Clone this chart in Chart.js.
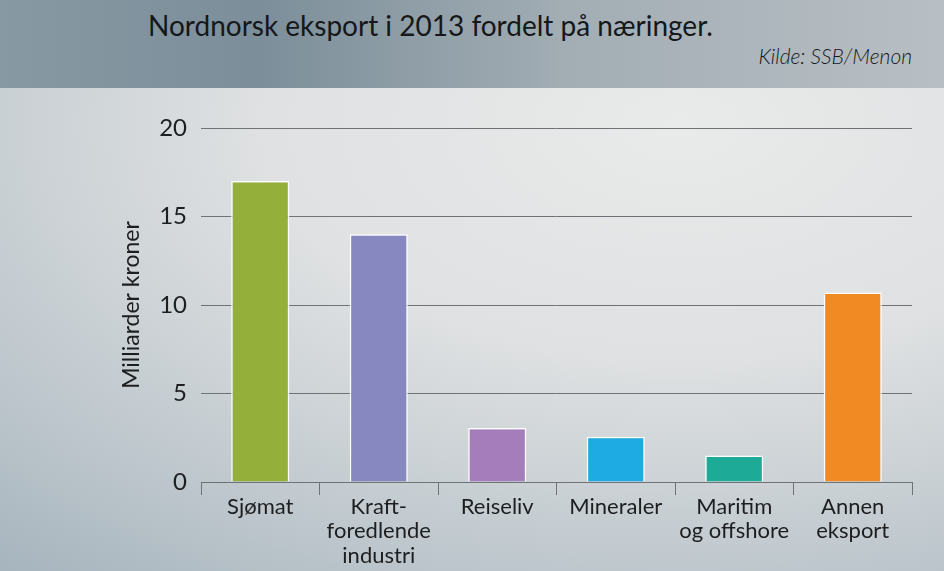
<!DOCTYPE html>
<html>
<head>
<meta charset="utf-8">
<script src="https://cdn.jsdelivr.net/npm/chart.js@4"></script>
<style>
  html, body { margin: 0; padding: 0; }
  body { width: 944px; height: 571px; overflow: hidden; font-family: Lato, sans-serif; }
  #header {
    position: relative; height: 88px;
    background: linear-gradient(90deg, #879aa4 0%, #7b8e99 27%, #a2adb4 60%, #b8bfc4 100%);
  }
  #title { position: absolute; left: 148px; top: 8px; font-size: 28px; color: #15171a; }
  #source { position: absolute; right: 32px; top: 43px; font-size: 21px; font-style: italic; font-weight: 300; color: #15171a; }
  #plot {
    position: relative; width: 944px; height: 483px;
    background: radial-gradient(ellipse 110% 120% at 72% 8%, #e9eaea 0%, #dfe1e2 40%, #c3cbd0 72%, #a7b5be 100%);
  }
</style>
</head>
<body>
<div id="header">
  <div id="title">Nordnorsk eksport i 2013 fordelt på næringer.</div>
  <div id="source">Kilde: SSB/Menon</div>
</div>
<div id="plot"><canvas id="chart" width="944" height="483"></canvas></div>
<script>
const categories = [
    'Sjømat',
    ['Kraft-', 'foredlende', 'industri'],
    'Reiseliv',
    'Mineraler',
    ['Maritim', 'og offshore'],
    ['Annen', 'eksport']
];
const values = [17.0, 14.0, 3.05, 2.55, 1.5, 10.7];
const barColors = ['#95b03a', '#8788c0', '#a57dba', '#1eaae2', '#1dab97', '#f28a24'];
const yTicks = [0, 5, 10, 15, 20];

const context = document.getElementById('chart');
const exportChart = new Chart(context, {
    type: 'bar',
    data: {
        labels: categories,
        datasets: [{
            data: values,
            backgroundColor: barColors,
            borderColor: '#ffffff',
            borderWidth: 1.5,
            categoryPercentage: 1,
            barPercentage: 0.49
        }]
    },
    options: {
        responsive: false,
        animation: false,
        layout: { padding: { top: 40, right: 32, left: 0, bottom: 0 } },
        plugins: { legend: { display: false }, tooltip: { enabled: false } },
        scales: {
            x: {
                grid: { drawOnChartArea: false, drawTicks: true, tickLength: 13, color: '#6e7378', lineWidth: 1 },
                border: { display: true, color: '#6e7378' },
                ticks: { color: '#1c1e20', font: { family: 'Lato', size: 22, lineHeight: 1.1 }, padding: 0, maxRotation: 0, autoSkip: false },
                afterFit: scale => { scale.height = 89; }
            },
            y: {
                min: 0,
                max: 20,
                afterBuildTicks: scale => { scale.ticks = yTicks.map(v => ({ value: v })); },
                grid: { color: '#6e7378', lineWidth: 1, drawTicks: false },
                border: { display: false },
                ticks: { color: '#1c1e20', font: { family: 'Lato', size: 24 }, padding: 14 },
                title: { display: true, text: 'Milliarder kroner', color: '#1c1e20', font: { family: 'Lato', size: 23 }, padding: { top: 118, bottom: 10 } },
                afterFit: scale => { scale.width = 201; }
            }
        }
    }
});
</script>
</body>
</html>
